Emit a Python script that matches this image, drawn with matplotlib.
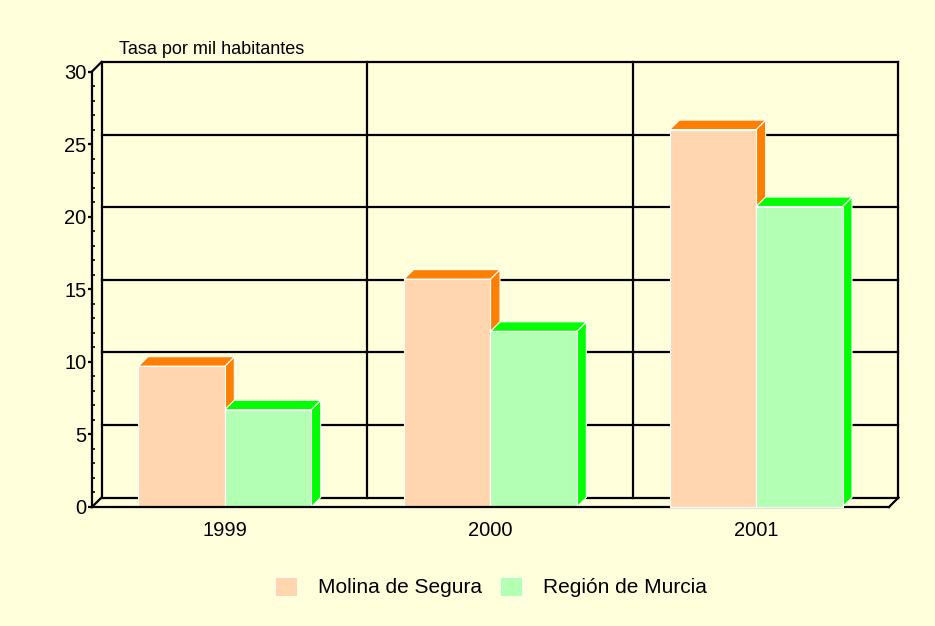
import matplotlib.pyplot as plt
from matplotlib.patches import Polygon, Patch
from matplotlib.ticker import MultipleLocator

plt.rcParams['font.family'] = ['Liberation Sans', 'DejaVu Sans']

# Data
years = ['1999', '2000', '2001']
molina = [9.7, 15.7, 26.0]
murcia = [6.7, 12.1, 20.7]
series_names = ['Molina de Segura', 'Región de Murcia']
yticks = [0, 5, 10, 15, 20, 25, 30]
ylabel = 'Tasa por mil habitantes'

# Style
BG = '#FFFFDC'
FRONT = ['#FFD6B0', '#B3FFB3']
SIDE = ['#FF8000', '#00FF00']
DEPTH_PX = 9.5
BAR_W = 0.325

fig = plt.figure(figsize=(9.35, 6.26), dpi=100, facecolor=BG)
ax = fig.add_axes([92 / 935, 1 - 507 / 626, 797 / 935, 435.5 / 626])
ax.set_xlim(0, len(years))
ax.set_ylim(0, 30)
ax.patch.set_visible(False)

# depth offset of the back wall, in data units
dx = DEPTH_PX * len(years) / ax.bbox.width
dy = DEPTH_PX * 30 / ax.bbox.height

line_kw = dict(color='black', lw=1.6, clip_on=False, zorder=1, solid_capstyle='projecting')

# back wall grid
for v in yticks:
    ax.plot([dx, len(years) + dx], [v + dy, v + dy], **line_kw)
for k in range(len(years) + 1):
    ax.plot([k + dx, k + dx], [dy, 30 + dy], **line_kw)
# depth edges
ax.plot([0, dx], [0, dy], **line_kw)
ax.plot([0, dx], [30, 30 + dy], **line_kw)
ax.plot([len(years), len(years) + dx], [0, dy], **line_kw)

for s in ['top', 'right']:
    ax.spines[s].set_visible(False)
for s in ['left', 'bottom']:
    ax.spines[s].set_linewidth(1.6)
    ax.spines[s].set_zorder(6)


def draw_bar(x0, h, front, side, z):
    x1 = x0 + BAR_W
    ax.add_patch(Polygon([(x1, 0), (x1 + dx, dy), (x1 + dx, h + dy), (x1, h)],
                         closed=True, fc=side, ec='white', lw=0.8, zorder=z,
                         clip_on=False))
    ax.add_patch(Polygon([(x0, h), (x0 + dx, h + dy), (x1 + dx, h + dy), (x1, h)],
                         closed=True, fc=side, ec='white', lw=0.8, zorder=z,
                         clip_on=False))
    ax.bar(x0, h, BAR_W, align='edge', color=front, edgecolor='white',
           lw=0.8, zorder=z, clip_on=False)


for i, (a, b) in enumerate(zip(molina, murcia)):
    c = i + 0.5
    draw_bar(c - BAR_W, a, FRONT[0], SIDE[0], 3 + 2 * i)
    draw_bar(c, b, FRONT[1], SIDE[1], 4 + 2 * i)

ax.set_xticks([i + 0.5 for i in range(len(years))], years)
ax.tick_params(axis='x', length=0, pad=10, labelsize=14.5)
ax.set_yticks(yticks)
ax.yaxis.set_minor_locator(MultipleLocator(1))
ax.tick_params(axis='y', which='major', direction='out', length=3, width=1.6,
               labelsize=14.5, pad=1)
ax.tick_params(axis='y', which='minor', direction='in', length=2, width=1.2)

fig.text(119 / 935, 1 - 49 / 626, ylabel, fontsize=13, va='center', ha='left')

handles = [Patch(facecolor=FRONT[0], edgecolor='white', lw=0.5),
           Patch(facecolor=FRONT[1], edgecolor='white', lw=0.5)]
fig.legend(handles, series_names, loc='center', bbox_to_anchor=(0.525, 1 - 587 / 626),
           ncol=2, frameon=False, fontsize=15, handlelength=1.05, handleheight=1.05,
           handletextpad=1.0, columnspacing=0.9)

fig.savefig('out.png', dpi=100, facecolor=BG)
